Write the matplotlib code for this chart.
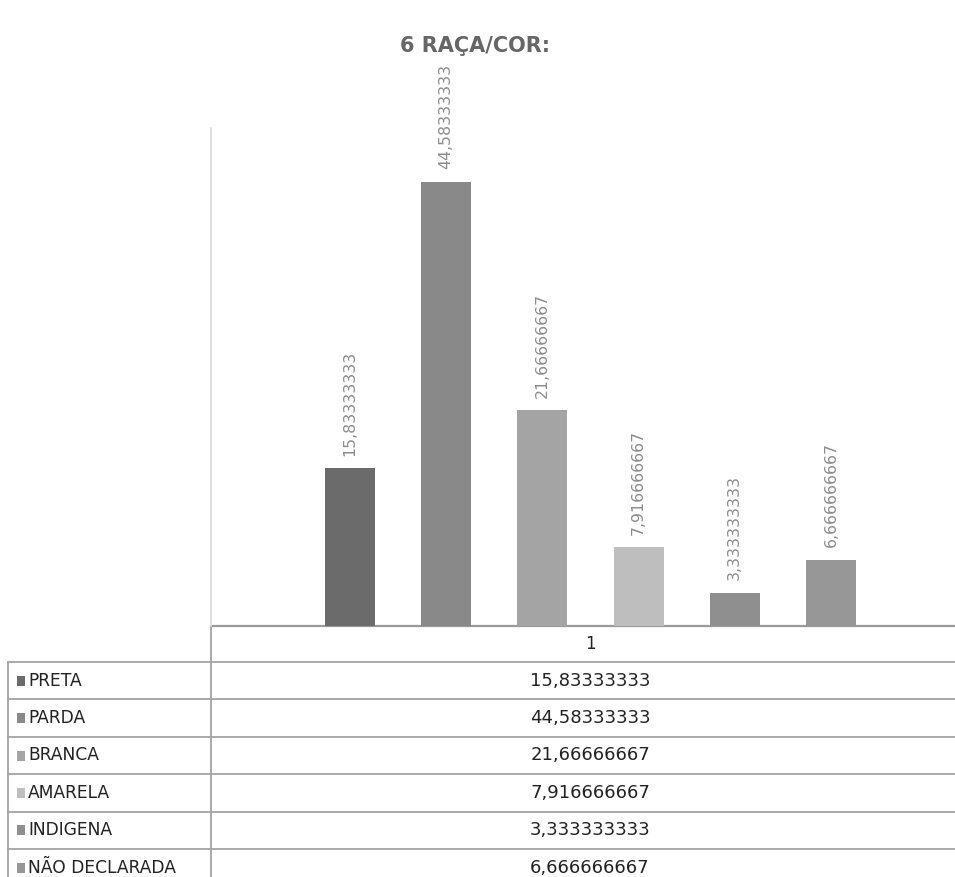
import matplotlib
matplotlib.use("Agg")
import matplotlib.pyplot as plt
from matplotlib.patches import Rectangle

# ── Data ──────────────────────────────────────────────────────────────────────
CATEGORIES = ["PRETA", "PARDA", "BRANCA", "AMARELA", "INDIGENA", "NÃO DECLARADA"]
VALUES = [15.83333333, 44.58333333, 21.66666667, 7.916666667, 3.333333333, 6.666666667]
COLORS = ["#6b6b6b", "#898989", "#a4a4a4", "#bebebe", "#8f8f8f", "#979797"]
SERIES_LABEL = "1"
TITLE = "6 RAÇA/COR:"


def br(v):
    # Excel-style general number, decimal comma
    return f"{v:.10g}".replace(".", ",")


W, H = 955, 877
fig = plt.figure(figsize=(W / 100, H / 100), dpi=100)
fig.patch.set_facecolor("white")

# pixel-space overlay for the data table
tab = fig.add_axes([0, 0, 1, 1])
tab.set_xlim(0, W)
tab.set_ylim(H, 0)
tab.axis("off")

# ── Bars ──────────────────────────────────────────────────────────────────────
PLOT_L, PLOT_R, PLOT_T, PLOT_B = 211, 955, 128, 626
ax = fig.add_axes([PLOT_L / W, 1 - PLOT_B / H, (PLOT_R - PLOT_L) / W, (PLOT_B - PLOT_T) / H])
ax.patch.set_alpha(0)

pos = list(range(len(VALUES)))
bars = ax.bar(pos, VALUES, width=0.52, color=COLORS, edgecolor="none", zorder=2)
for b, v in zip(bars, VALUES):
    ax.annotate(br(v), (b.get_x() + b.get_width() / 2, v),
                xytext=(0, 9), textcoords="offset points",
                rotation=90, ha="center", va="bottom",
                fontsize=11.3, color="#8c8c8c")

ax.set_xlim(-1.445, 6.29)
ax.set_ylim(0, 50)
ax.set_xticks([])
ax.set_yticks([])
for s in ("top", "right", "bottom"):
    ax.spines[s].set_visible(False)
ax.spines["left"].set_color("#d9d9d9")
ax.spines["left"].set_linewidth(1.2)

fig.text(475 / W, 1 - 46 / H, TITLE, ha="center", va="center",
         fontsize=15, fontweight="bold", color="#666666")

# ── Data table ────────────────────────────────────────────────────────────────
LINE = "#a3a3a3"
HEAD_T, HEAD_B = 626, 662
ROW_H = 37.4
COL_X = 590  # centre of the category column, under the bar group

tab.plot([PLOT_L, W], [HEAD_T, HEAD_T], color="#9a9a9a", lw=1.6)
tab.plot([PLOT_L, PLOT_L], [HEAD_T, H], color=LINE, lw=1.3)
tab.plot([8, 8], [HEAD_B, H], color=LINE, lw=1.3)
for k in range(len(CATEGORIES) + 1):
    y = HEAD_B + k * ROW_H
    tab.plot([8, W], [y, y], color=LINE, lw=1.3)

tab.text(COL_X, (HEAD_T + HEAD_B) / 2, SERIES_LABEL, ha="center", va="center",
         fontsize=12, color="#222222")

for k, (cat, v, c) in enumerate(zip(CATEGORIES, VALUES, COLORS)):
    yc = HEAD_B + (k + 0.5) * ROW_H
    tab.add_patch(Rectangle((17, yc - 5), 8, 10, color=c, lw=0))
    tab.text(28, yc, cat, ha="left", va="center", fontsize=12.3, color="#222222")
    tab.text(COL_X, yc, br(v), ha="center", va="center", fontsize=13, color="#222222")

fig.savefig("out.png", dpi=100)
